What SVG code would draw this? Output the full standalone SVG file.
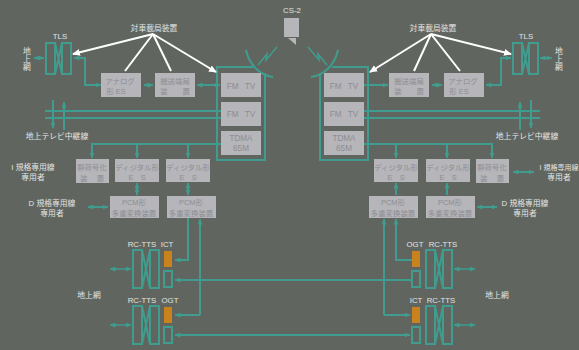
<svg xmlns="http://www.w3.org/2000/svg" width="579" height="350" viewBox="0 0 579 350">
<style>
.c{fill:none;stroke:#3f9c8e;stroke-width:2}
.t{fill:none;stroke:#3f9c8e;stroke-width:1.5}
.w{fill:none;stroke:#fff;stroke-width:2}
.b{fill:#b5b5ba}
.o{fill:#c8821e}
.l{font:7.8px "Liberation Sans","Noto Sans CJK JP",sans-serif;fill:#e4e4e4;text-anchor:middle}
.s{font:7.4px "Liberation Sans","Noto Sans CJK JP",sans-serif;fill:#8d8d92;text-anchor:middle}
.f{font-size:8.2px;word-spacing:4px}
</style>
<defs>
<marker id="a" markerWidth="6" markerHeight="5" refX="5.5" refY="2.5" orient="auto-start-reverse" markerUnits="userSpaceOnUse"><path d="M0 0L6 2.5L0 5z" fill="#3f9c8e"/></marker>
<marker id="h" markerWidth="8" markerHeight="8" refX="7" refY="4" orient="auto" markerUnits="userSpaceOnUse"><path d="M0 0.5L8 4L0 7.5z" fill="#fff"/></marker>
</defs>
<rect width="579" height="350" fill="#60665f"/>
<g id="connectors">
<path class="c" d="M253 67H217V160H265V73"/>
<path class="c" d="M332 67H368V160H320V73"/>
<path class="c" d="M246 50C249 64 259 75 273 77"/>
<path class="c" d="M338 50C335 64 325 75 311 77"/>
<path class="t" d="M258 65L267 54L266 60L277 47"/>
<path class="t" d="M327 65L318 54L319 60L308 47"/>
<path class="c" d="M101 85H85V58H74" marker-start="url(#a)" marker-end="url(#a)"/>
<path class="c" d="M144 85H153" marker-start="url(#a)" marker-end="url(#a)"/>
<path class="c" d="M197 85H220" marker-start="url(#a)" marker-end="url(#a)"/>
<path class="c" d="M44 58H34" marker-start="url(#a)" marker-end="url(#a)"/>
<path class="c" d="M364 85H388" marker-end="url(#a)"/>
<path class="c" d="M432 85H442" marker-start="url(#a)" marker-end="url(#a)"/>
<path class="c" d="M486 85H501V58H511" marker-start="url(#a)" marker-end="url(#a)"/>
<path class="c" d="M540 58H552" marker-start="url(#a)" marker-end="url(#a)"/>
<path class="c" d="M45 111H221M45 118H221"/>
<path class="c" d="M53 100V128" marker-end="url(#a)"/>
<path class="c" d="M64 130V102" marker-end="url(#a)"/>
<path class="c" d="M364 111H540M364 118H540"/>
<path class="c" d="M520 130V102" marker-end="url(#a)"/>
<path class="c" d="M531 100V128" marker-end="url(#a)"/>
<path class="c" d="M221 144H92V158" marker-end="url(#a)"/>
<path class="c" d="M137 144V158" marker-end="url(#a)"/>
<path class="c" d="M188 144V158" marker-end="url(#a)"/>
<path class="c" d="M364 144H492V158" marker-end="url(#a)"/>
<path class="c" d="M396 144V158" marker-end="url(#a)"/>
<path class="c" d="M447 144V158" marker-end="url(#a)"/>
<path class="c" d="M137 183V195" marker-start="url(#a)" marker-end="url(#a)"/>
<path class="c" d="M188 183V195" marker-start="url(#a)" marker-end="url(#a)"/>
<path class="c" d="M396 195V183" marker-end="url(#a)"/>
<path class="c" d="M447 195V183" marker-end="url(#a)"/>
<path class="c" d="M88 207H108" marker-start="url(#a)" marker-end="url(#a)"/>
<path class="c" d="M477 207H497" marker-start="url(#a)" marker-end="url(#a)"/>
<path class="c" d="M513 172H534" marker-start="url(#a)" marker-end="url(#a)"/>
<path class="c" d="M188 218V260H175" marker-end="url(#a)"/>
<path class="c" d="M200 315V219" marker-end="url(#a)"/>
<path class="c" d="M200 315H175" marker-end="url(#a)"/>
<path class="c" d="M396 219V260H412" marker-start="url(#a)"/>
<path class="c" d="M384 315V219" marker-end="url(#a)"/>
<path class="c" d="M384 315H410" marker-end="url(#a)"/>
<path class="c" d="M412 280H175" marker-end="url(#a)"/>
<path class="c" d="M410 335H175" marker-start="url(#a)" marker-end="url(#a)"/>
<path class="t" d="M110 269H131" marker-start="url(#a)" marker-end="url(#a)"/>
<path class="t" d="M110 325H131" marker-start="url(#a)" marker-end="url(#a)"/>
<path class="t" d="M454 269H475" marker-start="url(#a)" marker-end="url(#a)"/>
<path class="t" d="M454 325H475" marker-start="url(#a)" marker-end="url(#a)"/>
<path class="w" d="M153 34L73 54" marker-end="url(#h)"/>
<path class="w" d="M153 34L125 71"/>
<path class="w" d="M153 34L171 71"/>
<path class="w" d="M153 34L216 72" marker-end="url(#h)"/>
<path class="w" d="M431 34L370 72" marker-end="url(#h)"/>
<path class="w" d="M431 34L414 71"/>
<path class="w" d="M431 34L460 71"/>
<path class="w" d="M431 34L511 54" marker-end="url(#h)"/>
</g>
<g id="cs2"><text class="l" x="292" y="13">CS-2</text><rect class="b" x="284" y="18" width="15" height="19"/><path class="b" d="M288 38H296V45Z"/></g>
<g id="tls-l"><path class="c" d="M46 43h9v31h-9zM62 43h9v31h-9zM55 43L62 74M62 43L55 74"/><text class="l" x="60" y="39">TLS</text></g>
<g id="tls-r"><path class="c" d="M513 43h9v31h-9zM529 43h9v31h-9zM522 43L529 74M529 43L522 74"/><text class="l" x="526" y="39">TLS</text></g>
<g id="b1"><rect class="b" x="101" y="73" width="40" height="24"/><text class="s" x="120" y="84">アナログ</text><text class="s" x="116" y="94">形 ES</text></g>
<g id="b2"><rect class="b" x="155" y="73" width="40" height="24"/><text class="s" x="175" y="84">搬送端局</text><text class="s" x="175" y="94">装　　置</text></g>
<g id="b3"><rect class="b" x="221" y="73" width="40" height="24"/><text class="s f" x="241" y="89">FM TV</text></g>
<g id="b4"><rect class="b" x="221" y="102" width="40" height="24"/><text class="s f" x="241" y="117">FM TV</text></g>
<g id="b5"><rect class="b" x="221" y="131" width="40" height="24"/><text class="s f" x="241" y="141">TDMA</text><text class="s f" x="241" y="151">65M</text></g>
<g id="b6"><rect class="b" x="324" y="73" width="40" height="24"/><text class="s f" x="344" y="89">FM TV</text></g>
<g id="b7"><rect class="b" x="324" y="102" width="40" height="24"/><text class="s f" x="344" y="117">FM TV</text></g>
<g id="b8"><rect class="b" x="324" y="131" width="40" height="24"/><text class="s f" x="344" y="141">TDMA</text><text class="s f" x="344" y="151">65M</text></g>
<g id="b9"><rect class="b" x="389" y="73" width="40" height="24"/><text class="s" x="409" y="84">搬送端局</text><text class="s" x="409" y="94">装　　置</text></g>
<g id="b10"><rect class="b" x="444" y="73" width="40" height="24"/><text class="s" x="463" y="84">アナログ</text><text class="s" x="459" y="94">形 ES</text></g>
<g id="b11"><rect class="b" x="76" y="159" width="33" height="24"/><text class="s" x="92" y="170">群荷号化</text><text class="s" x="92" y="181">装　 置</text></g>
<g id="b12"><rect class="b" x="115" y="159" width="44" height="23"/><text class="s" x="137" y="170">ディジタル形</text><text class="s" x="137" y="180">E　S</text></g>
<g id="b13"><rect class="b" x="166" y="159" width="44" height="23"/><text class="s" x="188" y="170">ディジタル形</text><text class="s" x="188" y="180">E　S</text></g>
<g id="b14"><rect class="b" x="374" y="159" width="44" height="23"/><text class="s" x="396" y="170">ディジタル形</text><text class="s" x="396" y="180">E　S</text></g>
<g id="b15"><rect class="b" x="426" y="159" width="44" height="23"/><text class="s" x="448" y="170">ディジタル形</text><text class="s" x="448" y="180">E　S</text></g>
<g id="b16"><rect class="b" x="476" y="159" width="33" height="24"/><text class="s" x="492" y="170">群荷号化</text><text class="s" x="492" y="181">装　 置</text></g>
<g id="b17"><rect class="b" x="110" y="196" width="49" height="22"/><text class="s" x="134" y="205">PCM形</text><text class="s" x="134" y="216">多重変換装置</text></g>
<g id="b18"><rect class="b" x="167" y="196" width="49" height="22"/><text class="s" x="191" y="205">PCM形</text><text class="s" x="191" y="216">多重変換装置</text></g>
<g id="b19"><rect class="b" x="369" y="196" width="49" height="22"/><text class="s" x="393" y="205">PCM形</text><text class="s" x="393" y="216">多重変換装置</text></g>
<g id="b20"><rect class="b" x="426" y="196" width="49" height="22"/><text class="s" x="450" y="205">PCM形</text><text class="s" x="450" y="216">多重変換装置</text></g>
<g id="tts1"><path class="c" d="M133 250h9v38h-9zM150 250h9v38h-9zM142 250L150 288M150 250L142 288"/><rect class="o" x="164" y="251" width="8" height="16"/><rect class="c" x="164" y="271" width="8" height="16"/><text class="l" x="142" y="247">RC-TTS</text><text class="l" x="167" y="247">ICT</text></g>
<g id="tts2"><path class="c" d="M133 306h9v38h-9zM150 306h9v38h-9zM142 306L150 344M150 306L142 344"/><rect class="o" x="164" y="307" width="8" height="16"/><rect class="c" x="164" y="327" width="8" height="16"/><text class="l" x="142" y="303">RC-TTS</text><text class="l" x="170" y="303">OGT</text></g>
<g id="tts3"><path class="c" d="M426 250h9v38h-9zM443 250h9v38h-9zM435 250L443 288M443 250L435 288"/><rect class="o" x="412" y="251" width="8" height="16"/><rect class="c" x="412" y="271" width="8" height="16"/><text class="l" x="415" y="247">OGT</text><text class="l" x="443" y="247">RC-TTS</text></g>
<g id="tts4"><path class="c" d="M426 306h9v38h-9zM443 306h9v38h-9zM435 306L443 344M443 306L435 344"/><rect class="o" x="412" y="307" width="8" height="16"/><rect class="c" x="412" y="327" width="8" height="16"/><text class="l" x="416" y="303">ICT</text><text class="l" x="441" y="303">RC-TTS</text></g>
<g id="labels">
<text class="l" x="154" y="31">対車載局装置</text><text class="l" x="433" y="31">対車載局装置</text>
<text class="l" x="27" y="54">地</text><text class="l" x="27" y="62">上</text><text class="l" x="27" y="70">網</text>
<text class="l" x="559" y="54">地</text><text class="l" x="559" y="62">上</text><text class="l" x="559" y="70">網</text>
<text class="l" x="57" y="139">地上テレビ中継線</text><text class="l" x="527" y="139">地上テレビ中継線</text>
<text class="l" x="33" y="170">I 規格専用線</text><text class="l" x="33" y="180">専用者</text>
<text class="l" x="52" y="206">D 規格専用線</text><text class="l" x="52" y="216">専用者</text>
<text class="l" x="559" y="170" style="font-size:7px">I 規格専用線</text><text class="l" x="559" y="180">専用者</text>
<text class="l" x="525" y="206">D 規格専用線</text><text class="l" x="525" y="216">専用者</text>
<text class="l" x="89" y="298">地上網</text><text class="l" x="497" y="298">地上網</text>
</g>
</svg>
